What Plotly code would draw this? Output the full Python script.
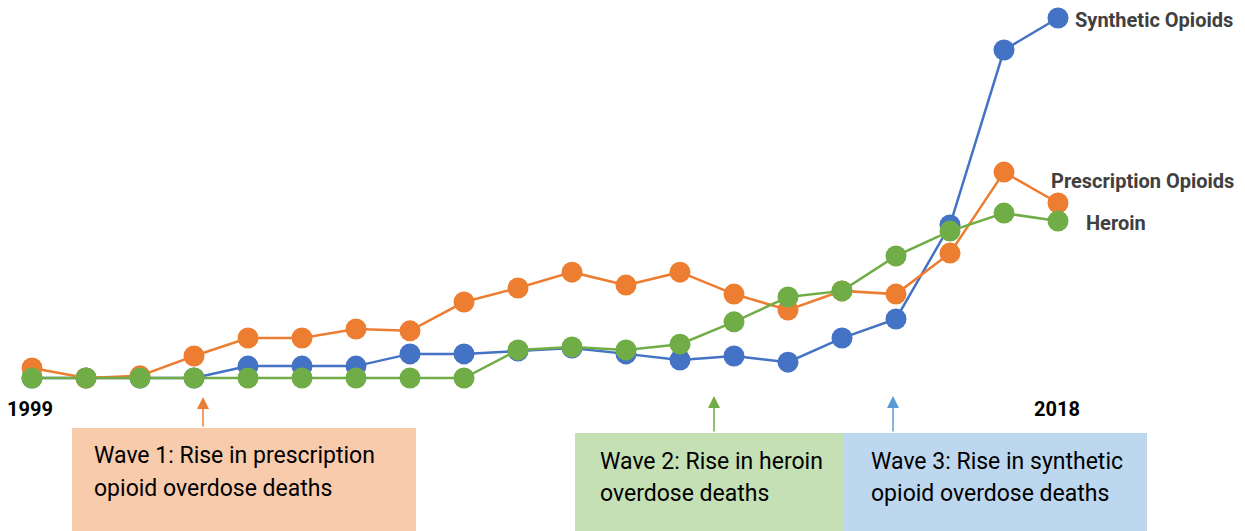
import plotly.graph_objects as go

years = list(range(1999, 2019))
synthetic = [0, 0, 0, 0, 0.33, 0.33, 0.33, 0.67, 0.67, 0.75, 0.83, 0.67, 0.5, 0.61, 0.44, 1.11, 1.64, 4.25, 9.11, 10.0]
prescription = [0.28, 0, 0.06, 0.61, 1.11, 1.11, 1.36, 1.31, 2.11, 2.5, 2.94, 2.58, 2.94, 2.33, 1.89, 2.42, 2.33, 3.47, 5.72, 4.86]
heroin = [0, 0, 0, 0, 0, 0, 0, 0, 0, 0.78, 0.86, 0.78, 0.94, 1.56, 2.25, 2.42, 3.39, 4.08, 4.58, 4.36]

series_names = ["Synthetic Opioids", "Prescription Opioids", "Heroin"]
year_labels = ["1999", "2018"]
wave_texts = [
    ["Wave 1: Rise in prescription", "opioid overdose deaths"],
    ["Wave 2: Rise in heroin", "overdose deaths"],
    ["Wave 3: Rise in synthetic", "opioid overdose deaths"],
]

BLUE = "#4472C4"
ORANGE = "#ED7D31"
GREEN = "#70AD47"
FONT = "Roboto, Liberation Sans, sans-serif"

W, H = 1245, 531

fig = go.Figure()
for vals, col, name in [(synthetic, BLUE, series_names[0]),
                        (prescription, ORANGE, series_names[1]),
                        (heroin, GREEN, series_names[2])]:
    fig.add_trace(go.Scatter(
        x=years, y=vals, mode="lines+markers", name=name,
        line=dict(color=col, width=2.5),
        marker=dict(color=col, size=21),
        hoverinfo="skip",
    ))

def px(x):
    return x / W

def py(y):
    return 1 - y / H

shapes = []
annotations = []

# Wave boxes (paper coords from pixel positions)
boxes = [
    (72, 428, 416, 531, "#F8CBAD"),
    (575, 433, 843, 531, "#C5E0B4"),
    (843, 433, 1147, 531, "#BDD7EE"),
]
for x0, y0, x1, y1, c in boxes:
    shapes.append(dict(type="rect", xref="paper", yref="paper",
                       x0=px(x0), x1=px(x1), y0=py(y1), y1=py(y0),
                       fillcolor=c, line=dict(width=0), layer="below"))

text_pos = [(92, 455, 488), (598, 461, 493), (869, 461, 493)]
for (tx, ya, yb), lines in zip(text_pos, wave_texts):
    for yy, t in zip((ya, yb), lines):
        annotations.append(dict(xref="paper", yref="paper", x=px(tx), y=py(yy),
                                xanchor="left", yanchor="middle", text=t,
                                showarrow=False,
                                font=dict(family=FONT, size=23, color="#000000")))

# Arrows
arrows = [(203, 428, 397, ORANGE), (714, 433, 396, GREEN), (893, 433, 396, "#5B9BD5")]
for ax_, ybase, ytip, c in arrows:
    annotations.append(dict(xref="paper", yref="paper", x=px(ax_), y=py(ytip),
                            ax=0, ay=ybase - ytip, axref="pixel", ayref="pixel",
                            text="", showarrow=True, arrowhead=2, arrowsize=1.6,
                            arrowwidth=1.5, arrowcolor=c))

# Year labels
for xx, t in [(30, year_labels[0]), (1057, year_labels[1])]:
    annotations.append(dict(xref="paper", yref="paper", x=px(xx), y=py(409),
                            xanchor="center", yanchor="middle", text="<b>%s</b>" % t,
                            showarrow=False,
                            font=dict(family=FONT, size=20, color="#000000")))

# Series labels
for xx, yy, t in [(1073, 20, series_names[0]), (1049, 181, series_names[1]), (1084, 223, series_names[2])]:
    annotations.append(dict(xref="paper", yref="paper", x=px(xx), y=py(yy),
                            xanchor="left", yanchor="middle", text="<b>%s</b>" % t,
                            showarrow=False,
                            font=dict(family=FONT, size=20, color="#404040")))

x0 = 1999 - 32 / 54
x1 = x0 + W / 54
y0 = -(H - 378) / 36
y1 = y0 + H / 36

fig.update_layout(
    width=W, height=H,
    margin=dict(l=0, r=0, t=0, b=0),
    paper_bgcolor="white", plot_bgcolor="white",
    showlegend=False,
    xaxis=dict(range=[x0, x1], visible=False, fixedrange=True),
    yaxis=dict(range=[y0, y1], visible=False, fixedrange=True),
    shapes=shapes, annotations=annotations,
    hovermode=False,
)

fig.write_html("out.html", config={"displayModeBar": False})
